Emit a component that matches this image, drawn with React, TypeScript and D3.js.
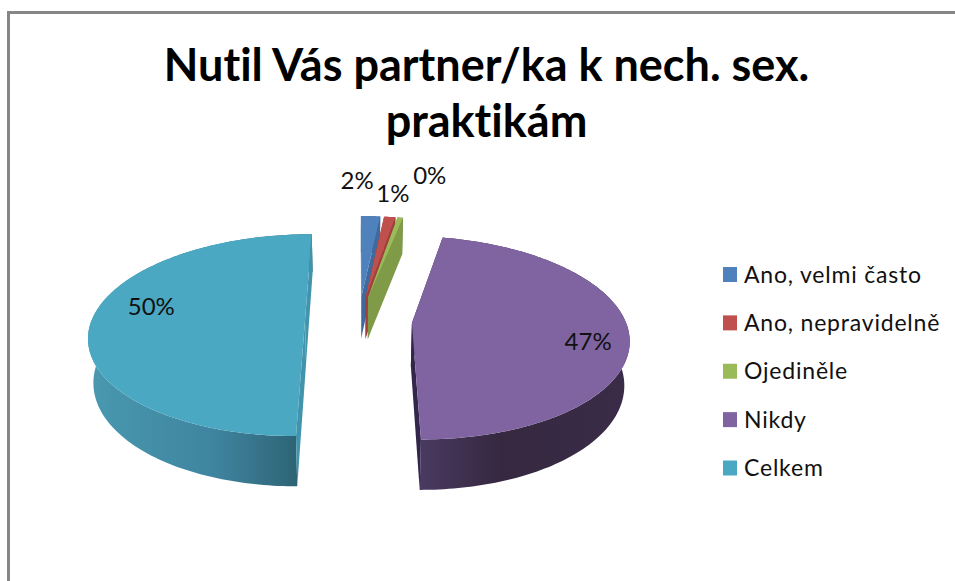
import React from "react";
import * as d3 from "d3";

const titleLines = ["Nutil Vás partner/ka k nech. sex.", "praktikám"];
const categories = ["Ano, velmi často", "Ano, nepravidelně", "Ojediněle", "Nikdy", "Celkem"];
const shareValues = [1.7, 1.0, 0.49, 46.81, 50];
const topColors = ["#4F81BD", "#C0504D", "#9BBB59", "#8064A2", "#4AA8C3"];
const cutColors = ["#3F6A9E", "#A03F3C", "#7F9B48", "#32264A", "#4194AC"];
const rimStops = [
  [["0%", "#39547a"], ["100%", "#39547a"]],
  [["0%", "#7c3432"], ["100%", "#7c3432"]],
  [["0%", "#647a3a"], ["100%", "#647a3a"]],
  [["0%", "#4A3A62"], ["40%", "#35283F"], ["100%", "#3A2C48"]],
  [["0%", "#4898AF"], ["55%", "#3F84A0"], ["100%", "#2A5E6D"]],
];

// layout of the perspective model
const W = 955, H = 581;
const VX = 358.5, VY = -366, DIST = 686.6, K = 0.144, R = 217, RX = 213.5, EXPLODE = 53.5, DEPTH = 43, SHRINK = 0.98;
// label nudges from the point at 'ratio' of the radius along the slice's mid angle
const labelLayout = [
  { ratio: 1.2, dx: -15, dy: -22 },
  { ratio: 1.2, dx: -1, dy: -10 },
  { ratio: 1.2, dx: 24, dy: -28 },
  { ratio: 0.8, dx: 3, dy: 10 },
  { ratio: 0.72, dx: 0, dy: -14 },
];

type P = [number, number];
const project = (x: number, z: number, low = false): P => {
  const s = 1 / (1 + (K * z) / R);
  const px = x * s * (low ? SHRINK : 1);
  return [VX + px, VY + DIST * s + (low ? DEPTH * s : 0)];
};

const poly = (pts: P[]) => {
  const p = d3.path();
  pts.forEach(([x, y], i) => (i ? p.lineTo(x, y) : p.moveTo(x, y)));
  p.closePath();
  return p.toString();
};

const pie = d3.pie<number>().sort(null).startAngle(0).endAngle(2 * Math.PI);
const arcs = pie(shareValues);

const slices = arcs.map((a, i) => {
  const mid = (a.startAngle + a.endAngle) / 2;
  const ox = EXPLODE * Math.sin(mid);
  const oz = EXPLODE * Math.cos(mid);
  const n = Math.max(4, Math.ceil((a.endAngle - a.startAngle) / 0.02));
  const angles = d3.range(n + 1).map((k) => a.startAngle + ((a.endAngle - a.startAngle) * k) / n);
  const rimAt = (t: number, f = 1, low = false) => project(ox + RX * f * Math.sin(t), oz + R * f * Math.cos(t), low);
  const apex = project(ox, oz);
  const apexLow = project(ox, oz, true);
  const rimTop = angles.map((t) => rimAt(t));
  const rimLow = angles.map((t) => rimAt(t, 1, true));
  const first = rimTop[0], last = rimTop[n];
  const lab = labelLayout[i];
  const base = rimAt(mid, lab.ratio);
  return {
    i,
    top: poly([apex, ...rimTop]),
    rim: poly([...rimTop, ...rimLow.slice().reverse()]),
    cutA: poly([apex, first, rimLow[0], apexLow]),
    cutB: poly([apex, last, rimLow[n], apexLow]),
    x0: d3.min(rimLow, (p) => p[0]) as number,
    x1: d3.max(rimLow, (p) => p[0]) as number,
    label: [base[0] + lab.dx, base[1] + lab.dy] as P,
    text: `${Math.round(shareValues[i])}%`,
  };
});

const legendY = d3.scalePoint<string>().domain(categories).range([274.5, 468]);
const font = "Lato, 'Open Sans', sans-serif";

export default function App() {
  return (
    <svg width={W} height={H} viewBox={`0 0 ${W} ${H}`} style={{ position: "absolute", left: 0, top: 0, background: "#fff" }}>
      <defs>
        {slices.map((s) => (
          <linearGradient key={s.i} id={`rim${s.i}`} gradientUnits="userSpaceOnUse" x1={s.x0} x2={s.x1} y1={0} y2={0}>
            {rimStops[s.i].map(([o, c]) => (
              <stop key={o} offset={o} stopColor={c} />
            ))}
          </linearGradient>
        ))}
      </defs>
      <path d={`M8.5 ${H}V12.5H${W}`} fill="none" stroke="#868686" strokeWidth={3} />
      {slices.map((s) => (
        <g key={s.i}>
          <path d={s.rim} fill={`url(#rim${s.i})`} />
          <path d={s.cutA} fill={cutColors[s.i]} />
          <path d={s.cutB} fill={cutColors[s.i]} />
          <path d={s.top} fill={topColors[s.i]} />
        </g>
      ))}
      <g fontFamily={font} fontWeight={700} fontSize={45} textAnchor="middle" fill="#000" style={{ fontVariantLigatures: "none" }}>
        {titleLines.map((t, i) => (
          <text key={t} x={486.5} y={81 + i * 56}>{t}</text>
        ))}
      </g>
      <g fontFamily={font} fontSize={24} textAnchor="middle" fill="#111">
        {slices.map((s) => (
          <text key={s.i} x={s.label[0]} y={s.label[1]} dy="0.35em">{s.text}</text>
        ))}
      </g>
      <g fontFamily={font} fontSize={23} letterSpacing={0.8} fill="#111" style={{ fontVariantLigatures: "none" }}>
        {categories.map((c, i) => (
          <g key={c} transform={`translate(723,${legendY(c)})`}>
            <rect x={0} y={-7.5} width={14} height={15} fill={topColors[i]} />
            <text x={21} y={0} dy="0.35em">{c}</text>
          </g>
        ))}
      </g>
    </svg>
  );
}
